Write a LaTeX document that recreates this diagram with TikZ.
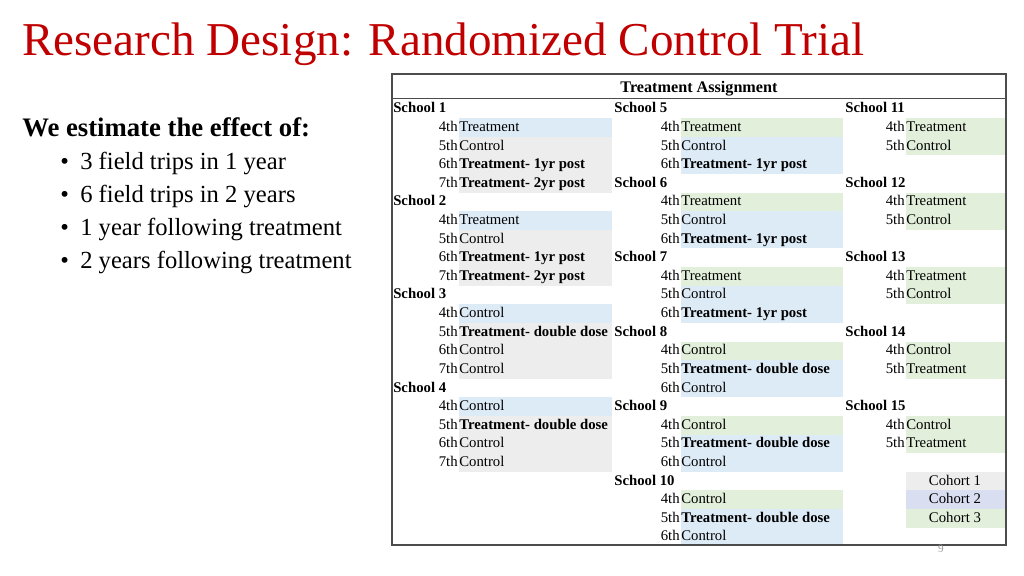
\documentclass[tikz,border=0pt]{standalone}
\usepackage{fontspec}
\setmainfont{Liberation Serif}
\definecolor{titlered}{HTML}{C00000}
\definecolor{cblue}{HTML}{DDEBF7}
\definecolor{cgray}{HTML}{EDEDED}
\definecolor{cgreen}{HTML}{E2EFDA}
\definecolor{clav}{HTML}{D9DFF1}
\tikzset{
  school/.style={anchor=base west,inner sep=0pt,font=\fontsize{10.5}{12}\selectfont\bfseries},
  grade/.style={anchor=base east,inner sep=0pt,font=\fontsize{10.5}{12}\selectfont},
  cell/.style={anchor=base west,inner sep=0pt,font=\fontsize{10.5}{12}\selectfont},
  bullet/.style={anchor=base west,inner sep=0pt,font=\fontsize{17.5}{20}\selectfont}
}
\newcommand{\TO}{\textbf{Treatment- 1yr post}}
\newcommand{\TT}{\textbf{Treatment- 2yr post}}
\newcommand{\TD}{\textbf{Treatment- double dose}}
\begin{document}
\begin{tikzpicture}[x=0.025cm,y=-0.025cm]
\useasboundingbox (0,0) rectangle (1024,576);
% title and bullets
\node[anchor=base west,inner sep=0pt,text=titlered,font=\fontsize{33.5}{38}\selectfont] (title) at (22,56) {Research Design: Randomized Control Trial};
\node[anchor=base west,inner sep=0pt,font=\fontsize{19}{22}\selectfont\bfseries] (lead) at (22,137) {We estimate the effect of:};
\foreach \y/\t [count=\i] in {163/3 field trips in 1 year,196/6 field trips in 2 years,229/1 year following treatment,262/2 years following treatment}{
  \node[bullet] (dot\i) at (60,\y+7) {\textbullet};
  \node[bullet] (pt\i) at (80,\y+7) {\t};
}
% shaded cells: column x0/x1, row, colour
\foreach \xa/\xb/\r/\c in {
  459/612/1/cblue,459/612/2/cgray,459/612/3/cgray,459/612/4/cgray,
  459/612/6/cblue,459/612/7/cgray,459/612/8/cgray,459/612/9/cgray,
  459/612/11/cblue,459/612/12/cgray,459/612/13/cgray,459/612/14/cgray,
  459/612/16/cblue,459/612/17/cgray,459/612/18/cgray,459/612/19/cgray,
  681/843/1/cgreen,681/843/2/cblue,681/843/3/cblue,
  681/843/5/cgreen,681/843/6/cblue,681/843/7/cblue,
  681/843/9/cgreen,681/843/10/cblue,681/843/11/cblue,
  681/843/13/cgreen,681/843/14/cblue,681/843/15/cblue,
  681/843/17/cgreen,681/843/18/cblue,681/843/19/cblue,
  681/843/21/cgreen,681/843/22/cblue,681/843/23/cblue,
  906/1005/1/cgreen,906/1005/2/cgreen,906/1005/5/cgreen,906/1005/6/cgreen,
  906/1005/9/cgreen,906/1005/10/cgreen,906/1005/13/cgreen,906/1005/14/cgreen,
  906/1005/17/cgreen,906/1005/18/cgreen,
  906/1005/20/cgray,906/1005/21/clav,906/1005/22/cgreen}
  \fill[\c] (\xa,{109+18.6*\r-9.3}) rectangle (\xb,{109+18.6*\r+9.3});
% frame
\draw[black!70,line width=0.8pt] (392,74) rectangle (1006,545);
\draw[black!70] (392,98) -- (1006,98);
\node[anchor=base,inner sep=0pt,font=\fontsize{11.5}{13}\selectfont\bfseries] (head) at (699,93) {Treatment Assignment};
% school headings: x, row, number
\foreach \x/\r/\n in {393/0/1,393/5/2,393/10/3,393/15/4,
  614/0/5,614/4/6,614/8/7,614/12/8,614/16/9,614/20/10,
  845/0/11,845/4/12,845/8/13,845/12/14,845/16/15}
  \node[school] (s\n) at (\x,{113+18.6*\r}) {School \n};
% grade rows: grade x, row, grade, text
\foreach \x/\r/\g/\t in {
  458/1/4th/Treatment,458/2/5th/Control,458/3/6th/\TO,458/4/7th/\TT,
  458/6/4th/Treatment,458/7/5th/Control,458/8/6th/\TO,458/9/7th/\TT,
  458/11/4th/Control,458/12/5th/\TD,458/13/6th/Control,458/14/7th/Control,
  458/16/4th/Control,458/17/5th/\TD,458/18/6th/Control,458/19/7th/Control,
  680/1/4th/Treatment,680/2/5th/Control,680/3/6th/\TO,
  680/5/4th/Treatment,680/6/5th/Control,680/7/6th/\TO,
  680/9/4th/Treatment,680/10/5th/Control,680/11/6th/\TO,
  680/13/4th/Control,680/14/5th/\TD,680/15/6th/Control,
  680/17/4th/Control,680/18/5th/\TD,680/19/6th/Control,
  680/21/4th/Control,680/22/5th/\TD,680/23/6th/Control,
  905/1/4th/Treatment,905/2/5th/Control,905/5/4th/Treatment,905/6/5th/Control,
  905/9/4th/Treatment,905/10/5th/Control,905/13/4th/Control,905/14/5th/Treatment,
  905/17/4th/Control,905/18/5th/Treatment}{
  \node[grade] (g\x-\r) at (\x,{113+18.6*\r}) {\g};
  \node[cell] (t\x-\r) at (\x+1,{113+18.6*\r}) {\t};
}
% cohort legend
\foreach \r/\n in {20/1,21/2,22/3}
  \node[anchor=base,inner sep=0pt,font=\fontsize{10.5}{12}\selectfont] (coh\n) at (955,{113+18.6*\r}) {Cohort \n};
\node[inner sep=0pt,text=black!40,font=\fontsize{8}{9}\selectfont] (page) at (941,549) {9};
\end{tikzpicture}
\end{document}
